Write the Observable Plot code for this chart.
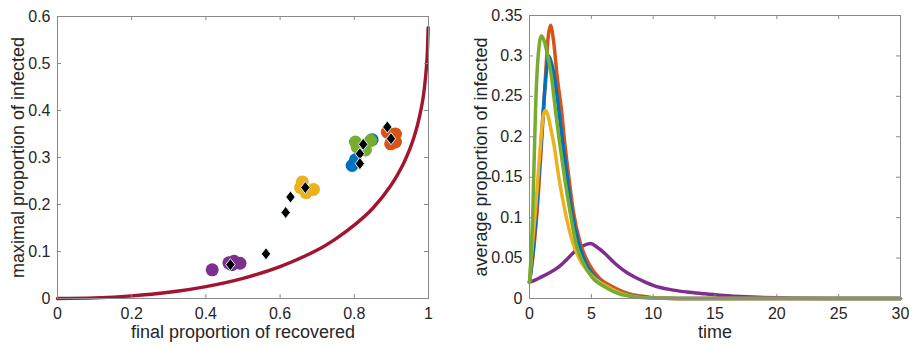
<!DOCTYPE html>
<html>
<head>
<meta charset="utf-8">
<script src="https://cdn.jsdelivr.net/npm/d3@7"></script>
<script src="https://cdn.jsdelivr.net/npm/@observablehq/plot@0.6"></script>
<style>
  html, body { margin: 0; padding: 0; background: #fff; }
  #wrap { display: flex; width: 909px; height: 348px; }
  svg { overflow: visible; }
</style>
</head>
<body>
<div id="wrap"></div>
<script>
// ---------- Left panel data ----------
const leftXTicks = [0, 0.2, 0.4, 0.6, 0.8, 1];
const leftYTicks = [0, 0.1, 0.2, 0.3, 0.4, 0.5, 0.6];
const leftXLabel = "final proportion of recovered";
const leftYLabel = "maximal proportion of infected";

// boundary curve (final recovered, maximal infected)
const curveR = [0, 0.1, 0.2, 0.3, 0.4, 0.5, 0.6, 0.7, 0.75, 0.8, 0.85, 0.9, 0.93, 0.95, 0.96, 0.97, 0.98, 0.985, 0.99, 0.995, 0.997, 0.999];
const curveI = [0, 0.0013, 0.0056, 0.0133, 0.0254, 0.043, 0.068, 0.103, 0.127, 0.156, 0.192, 0.242, 0.283, 0.319, 0.341, 0.368, 0.403, 0.425, 0.455, 0.498, 0.526, 0.576];

const purpleR = [0.417, 0.462, 0.476, 0.492, 0.470];
const purpleI = [0.061, 0.076, 0.079, 0.075, 0.072];
const yellowR = [0.660, 0.690, 0.670, 0.655];
const yellowI = [0.248, 0.232, 0.225, 0.236];
const blueR = [0.794, 0.803, 0.848];
const blueI = [0.283, 0.295, 0.338];
const greenR = [0.803, 0.844, 0.830, 0.808];
const greenI = [0.333, 0.336, 0.316, 0.322];
const orangeR = [0.889, 0.911, 0.898, 0.911];
const orangeI = [0.354, 0.350, 0.329, 0.333];
const diamondR = [0.466, 0.562, 0.615, 0.628, 0.668, 0.824, 0.815, 0.815, 0.889, 0.899];
const diamondI = [0.072, 0.095, 0.183, 0.216, 0.236, 0.328, 0.308, 0.287, 0.365, 0.340];

// ---------- Right panel data ----------
const rightXTicks = [0, 5, 10, 15, 20, 25, 30];
const rightYTicks = [0, 0.05, 0.1, 0.15, 0.2, 0.25, 0.3, 0.35];
const rightXLabel = "time";
const rightYLabel = "average proportion of infected";

const orangeT = [0, 0.3, 0.62, 0.97, 1.29, 1.5, 1.7, 1.95, 2.24, 2.59, 2.86, 3.18, 3.53, 4.12, 4.8, 5.6, 6.8, 8.0, 9.0, 10, 12, 30];
const orangeY = [0.02, 0.055, 0.109, 0.191, 0.274, 0.322, 0.338, 0.318, 0.274, 0.2325, 0.191, 0.15, 0.109, 0.0676, 0.043, 0.026, 0.014, 0.006, 0.003, 0.001, 0, 0];
const blueT = [0, 0.3, 0.62, 0.97, 1.25, 1.56, 1.8, 2.05, 2.37, 2.7, 3.05, 3.4, 3.99, 4.6, 5.4, 6.5, 7.8, 9.0, 10, 12, 30];
const blueY = [0.02, 0.06, 0.12, 0.2, 0.26, 0.300, 0.29, 0.27, 0.2325, 0.191, 0.15, 0.109, 0.0676, 0.042, 0.025, 0.013, 0.005, 0.002, 0.0008, 0, 0];
const greenT = [0, 0.15, 0.27, 0.485, 0.7, 0.97, 1.2, 1.5, 1.78, 2.1, 2.45, 2.83, 3.26, 3.77, 4.39, 5.07, 6.14, 7.2, 8.5, 10, 12, 30];
const greenY = [0.02, 0.06, 0.109, 0.2325, 0.3, 0.325, 0.318, 0.298, 0.274, 0.2325, 0.191, 0.15, 0.109, 0.0676, 0.043, 0.026, 0.014, 0.006, 0.002, 0.0005, 0, 0];
const yellowT = [0, 0.2, 0.485, 0.89, 1.1, 1.29, 1.5, 1.75, 1.97, 2.37, 2.86, 3.53, 4.26, 5.2, 6.4, 7.5, 8.7, 10, 12, 30];
const yellowY = [0.02, 0.06, 0.109, 0.191, 0.225, 0.2325, 0.226, 0.208, 0.191, 0.15, 0.109, 0.0676, 0.043, 0.026, 0.014, 0.006, 0.002, 0.0005, 0, 0];
const purpleT = [0, 0.5, 1.0, 1.5, 2.37, 3.0, 3.72, 4.3, 4.93, 5.5, 6.14, 6.95, 7.5, 8.2, 8.7, 9.4, 10.05, 11.4, 12.75, 14, 15.4, 17, 18.5, 20, 22, 25, 30];
const purpleY = [0.02, 0.023, 0.027, 0.031, 0.039, 0.048, 0.059, 0.065, 0.068, 0.063, 0.055, 0.043, 0.036, 0.029, 0.025, 0.02, 0.016, 0.011, 0.008, 0.006, 0.004, 0.0025, 0.0015, 0.0008, 0.0003, 0.0001, 0];

// ---------- helpers ----------
const C = {
  blue: "#0072BD", orange: "#D95319", yellow: "#EDB120",
  purple: "#7E2F8E", green: "#77AC30", red: "#A2142F"
};
const zipXY = (xs, ys) => xs.map((x, i) => ({x, y: ys[i]}));
const FONT = "'Liberation Sans', Arial, Helvetica, sans-serif";
const BOX = "#8a8a8a";
const fmt = d => String(d);

// wide MATLAB-like diamond
const matlabDiamond = {
  draw(ctx, size) {
    const k = Math.sqrt(size);
    const hy = 0.9 * k, hx = 0.7 * k;
    ctx.moveTo(0, -hy); ctx.lineTo(hx, 0); ctx.lineTo(0, hy); ctx.lineTo(-hx, 0); ctx.closePath();
  }
};

function panel({width, height, ml, mr, mt, mb, xDomain, yDomain, xTicks, yTicks, xLabel, yLabel, yLabelDx, marks}) {
  const W = width - ml - mr, H = height - mt - mb;
  return Plot.plot({
    width, height,
    marginLeft: ml, marginRight: mr, marginTop: mt, marginBottom: mb,
    style: {fontFamily: FONT, fontSize: "16px", color: "#262626", background: "white", overflow: "visible"},
    x: {domain: xDomain},
    y: {domain: yDomain},
    marks: [
      ...marks,
      Plot.frame({stroke: BOX, strokeWidth: 1}),
      Plot.tickX(xTicks, {x: d => d, insetTop: H - 4, stroke: BOX}),
      Plot.tickX(xTicks, {x: d => d, insetBottom: H - 4, stroke: BOX}),
      Plot.tickY(yTicks, {y: d => d, insetRight: W - 4, stroke: BOX}),
      Plot.tickY(yTicks, {y: d => d, insetLeft: W - 4, stroke: BOX}),
      Plot.axisX(xTicks, {tickSize: 0, tickPadding: 9, tickFormat: fmt, label: null, fontSize: 16, fill: "#262626"}),
      Plot.axisY(yTicks, {tickSize: 0, tickPadding: 7, tickFormat: fmt, label: null, fontSize: 16, fill: "#262626"}),
      Plot.text([xLabel], {frameAnchor: "bottom", dy: 39, text: d => d, textAnchor: "middle", fontSize: 18, fill: "#262626"}),
      Plot.text([yLabel], {frameAnchor: "left", dx: yLabelDx, rotate: -90, text: d => d, textAnchor: "middle", lineAnchor: "middle", fontSize: 18, fill: "#262626"})
    ]
  });
}

const dotOpts = (xs, ys, color) => Plot.dot(zipXY(xs, ys), {x: "x", y: "y", r: 6.5, fill: color, stroke: "none"});

const left = panel({
  width: 455, height: 348, ml: 57, mr: 27, mt: 16, mb: 50,
  xDomain: [0, 1], yDomain: [0, 0.6],
  xTicks: leftXTicks, yTicks: leftYTicks,
  xLabel: leftXLabel, yLabel: leftYLabel, yLabelDx: -39,
  marks: [
    Plot.line(zipXY(curveR, curveI), {x: "x", y: "y", stroke: C.red, strokeWidth: 3.4, curve: "catmull-rom"}),
    dotOpts(purpleR, purpleI, C.purple),
    dotOpts(yellowR, yellowI, C.yellow),
    dotOpts(blueR, blueI, C.blue),
    dotOpts(greenR, greenI, C.green),
    dotOpts(orangeR, orangeI, C.orange),
    Plot.dot(zipXY(diamondR, diamondI), {x: "x", y: "y", r: 3.8, symbol: matlabDiamond, fill: "#000", stroke: "#d8f4f8", strokeWidth: 1})
  ]
});

const lineOpts = (ts, ys, color) => Plot.line(zipXY(ts, ys), {x: "x", y: "y", stroke: color, strokeWidth: 3.5, curve: "monotone-x"});

const right = panel({
  width: 454, height: 348, ml: 74, mr: 9, mt: 15, mb: 50,
  xDomain: [0, 30], yDomain: [0, 0.35],
  xTicks: rightXTicks, yTicks: rightYTicks,
  xLabel: rightXLabel, yLabel: rightYLabel, yLabelDx: -48,
  marks: [
    lineOpts(purpleT, purpleY, C.purple),
    lineOpts(orangeT, orangeY, C.orange),
    lineOpts(blueT, blueY, C.blue),
    lineOpts(yellowT, yellowY, C.yellow),
    lineOpts(greenT, greenY, C.green)
  ]
});

const wrap = document.getElementById("wrap");
wrap.appendChild(left);
wrap.appendChild(right);
</script>
</body>
</html>
